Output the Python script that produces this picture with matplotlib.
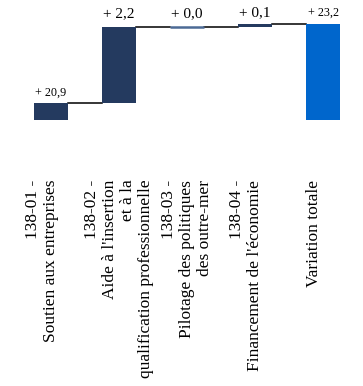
import matplotlib
matplotlib.use("Agg")
import matplotlib.pyplot as plt
import numpy as np

# categories (tick labels, trailing blank line keeps Excel-like offset)
categories = [
    "138-01 -\nSoutien aux entreprises\n",
    "138-02 -\nAide à l'insertion\net à la\nqualification professionnelle",
    "138-03 -\nPilotage des politiques\ndes outre-mer",
    "138-04 -\nFinancement de l'économie\n",
    "Variation totale\n",
]
steps = [20.9, 2.2, 0.0, 0.1]
total = 23.2
label_sizes = [8.7, 11, 11, 11, 8.7]

NAVY = "#243a5f"
ZERO = "#4c6a95"
TOTAL = "#0066cc"


def fmt(v):
    return "+ " + f"{v:.1f}".replace(".", ",")


fig = plt.figure(figsize=(3.63, 3.86), dpi=100)
ax = fig.add_axes([17 / 363, 1 - 120 / 386, 340 / 363, 108 / 386])

x = np.arange(len(categories))
width = 0.5
cum = np.concatenate([[0], np.cumsum(steps)])
bottoms = list(cum[:-1]) + [0]
heights = list(steps) + [total]
colors = [NAVY, NAVY, ZERO, NAVY, TOTAL]

for i, (b, h, c) in enumerate(zip(bottoms, heights, colors)):
    if h == 0:
        ax.plot([x[i] - width / 2, x[i] + width / 2], [b, b], color=c, lw=1.8,
                solid_capstyle="butt", zorder=3)
    else:
        ax.bar(x[i], h, width=width, bottom=b, color=c, zorder=3)

# connectors between consecutive bars
levels = list(cum[1:])
for i in range(len(categories) - 1):
    ax.plot([x[i] + width / 2, x[i + 1] - width / 2], [levels[i], levels[i]],
            color="black", lw=1.1, zorder=2)

# value labels
vals = list(steps) + [total]
tops = [b + h for b, h in zip(bottoms, heights)]
offsets = [3, 5, 5, 3.5, 3.5]
for i, v in enumerate(vals):
    ax.annotate(fmt(v), (x[i], tops[i]), xytext=(0, offsets[i]),
                textcoords="offset points", ha="center", va="bottom",
                fontsize=label_sizes[i], family="Liberation Serif")

ax.set_xlim(-0.5, len(categories) - 0.5)
ax.set_ylim(20.4, 23.55)
ax.set_xticks(x)
ax.set_xticklabels(categories, rotation=90, fontsize=12.5, family="Liberation Serif",
                   linespacing=1.15)
for t in ax.get_xticklabels():
    t.set_multialignment("right")
ax.tick_params(axis="x", length=0, pad=43)
ax.set_yticks([])
for s in ax.spines.values():
    s.set_visible(False)

fig.savefig("out.png", dpi=100)
